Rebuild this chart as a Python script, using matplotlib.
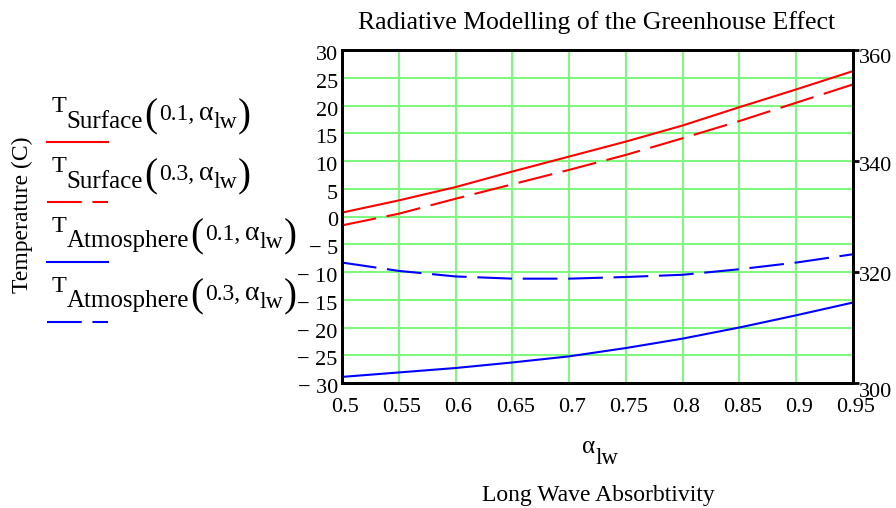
import numpy as np
import matplotlib
matplotlib.use("Agg")
import matplotlib.pyplot as plt
from matplotlib.lines import Line2D
from matplotlib.transforms import IdentityTransform, ScaledTranslation

# values (deg C, left axis)
alpha_lw = [0.5, 0.55, 0.6, 0.65, 0.7, 0.75, 0.8, 0.85, 0.9, 0.95]
t_surface_01 = [0.7, 2.9, 5.3, 8.1, 10.8, 13.5, 16.4, 19.7, 22.9, 26.2]
t_surface_03 = [-1.6, 0.5, 3.2, 5.8, 8.4, 11.1, 14.1, 17.2, 20.5, 23.8]
t_atmos_01 = [-28.9, -28.1, -27.3, -26.3, -25.2, -23.7, -22.0, -20.0, -17.8, -15.5]
t_atmos_03 = [-8.3, -9.8, -10.8, -11.2, -11.2, -10.9, -10.5, -9.5, -8.3, -6.8]

x_ticks = [0.5, 0.55, 0.6, 0.65, 0.7, 0.75, 0.8, 0.85, 0.9, 0.95]
x_labels = ["0.5", "0.55", "0.6", "0.65", "0.7", "0.75", "0.8", "0.85", "0.9", "0.95"]
y_ticks = [-30, -25, -20, -15, -10, -5, 0, 5, 10, 15, 20, 25, 30]
y_labels = ["\u2212 30", "\u2212 25", "\u2212 20", "\u2212 15", "\u2212 10", "\u2212 5",
            "0", "5", "10", "15", "20", "25", "30"]
k_ticks = [300, 320, 340, 360]
k_labels = ["300", "320", "340", "360"]

legend_names = ["Surface", "Surface", "Atmosphere", "Atmosphere"]
legend_args = ["0.1,", "0.3,", "0.1,", "0.3,"]

plt.rcParams['font.family'] = ['Liberation Serif', 'DejaVu Serif']
plt.rcParams['lines.scale_dashes'] = False

W, H = 896, 508
fig = plt.figure(figsize=(W / 100, H / 100), dpi=100)
ax = fig.add_axes([342 / W, 1 - 383 / H, 511 / W, 333 / H])

grid_col = '#80F880'
dash = (0, (25, 7.7))

ax.plot(alpha_lw, t_surface_01, color='red', lw=1.5)
ax.plot(alpha_lw, t_surface_03, color='red', lw=1.5, ls=dash)
ax.plot(alpha_lw, t_atmos_01, color='blue', lw=1.5)
ax.plot(alpha_lw, t_atmos_03, color='blue', lw=1.5, ls=dash)

ax.set_xlim(0.5, 0.95)
ax.set_ylim(-30, 30)
ax.set_xticks(x_ticks)
ax.set_xticklabels(x_labels, fontsize=16)
ax.set_yticks(y_ticks)
ax.set_yticklabels(y_labels, fontsize=16)
ax.tick_params(axis='both', length=0)
ax.tick_params(axis='x', pad=11)
ax.tick_params(axis='y', pad=3)
ax.grid(True, color=grid_col, lw=1.5)
ax.set_axisbelow(True)
for sp in ax.spines.values():
    sp.set_linewidth(2)

down = ScaledTranslation(0, -3 / 100, fig.dpi_scale_trans)
for lab in ax.get_yticklabels():
    lab.set_transform(lab.get_transform() + down)
right_shift = ScaledTranslation(3 / 100, 0, fig.dpi_scale_trans)
for lab in ax.get_xticklabels():
    lab.set_transform(lab.get_transform() + right_shift)

ax2 = ax.twinx()
ax2.set_ylim(300, 360)
ax2.set_yticks(k_ticks)
ax2.set_yticklabels(k_labels, fontsize=16)
ax2.tick_params(axis='y', direction='out', length=4.5, width=2, pad=0)
# Mathcad drops the end labels inside the axis range
k_drop = [7, 2, 3, 6]
for lab, d in zip(ax2.get_yticklabels(), k_drop):
    lab.set_transform(lab.get_transform() + ScaledTranslation(0, -d / 100, fig.dpi_scale_trans))
for sp in ax2.spines.values():
    sp.set_linewidth(2)

px = IdentityTransform()
fig.text(597, H - 23, "Radiative Modelling of the Greenhouse Effect", fontsize=18.5,
         ha='center', va='center', transform=px)
fig.text(598, H - 495, "Long Wave Absorbtivity", fontsize=17,
         ha='center', va='center', transform=px)
fig.text(22, H - 215, "Temperature (C)", fontsize=17, rotation=90,
         ha='center', va='center', transform=px)

renderer = fig.canvas.get_renderer()


def put(x, y, s, size):
    t = fig.text(x, H - y, s, fontsize=size, ha='left', va='baseline', transform=px)
    return x + t.get_window_extent(renderer).width


# x axis symbol
xx = put(582, 453, "\u03b1", 18)
put(xx, 464, "lw", 16.5)

# legend entries, Mathcad style: label above a line sample
colors = ['red', 'red', 'blue', 'blue']
styles = ['-', dash, '-', dash]
for i in range(4):
    b = 111 + 60 * i
    x = put(52, b + 1, "T", 17.5)
    x = put(x, b + 16.5, legend_names[i], 18)
    x = put(x + 1, b + 15, "(", 28)
    x = put(x + 2, b + 9, legend_args[i], 17)
    x = put(x + 4, b + 9, "\u03b1", 20)
    x = put(x, b + 16.5, "lw", 17)
    put(x + 1, b + 15, ")", 28)
    fig.add_artist(Line2D([47, 108], [H - b - 31, H - b - 31], color=colors[i],
                          lw=1.5, ls=styles[i], transform=px))

fig.savefig("out.png", dpi=100)
